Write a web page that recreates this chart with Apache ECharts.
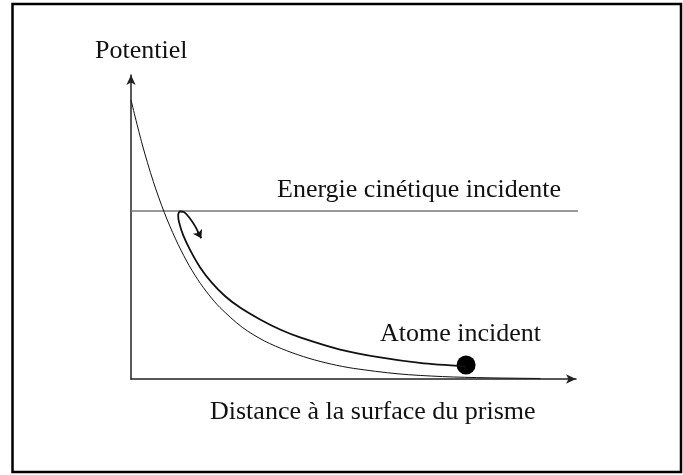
<!DOCTYPE html>
<html>
<head>
<meta charset="utf-8">
<script src="https://cdn.jsdelivr.net/npm/echarts@6/dist/echarts.min.js"></script>
<style>
  html, body { margin: 0; padding: 0; background: #fff; }
  #chart { width: 683px; height: 475px; }
</style>
</head>
<body>
<div id="chart"></div>
<script>
// potential curve V(d)
const distance = [0, 0.25, 0.5, 0.75, 1, 1.25, 1.5, 1.75, 2, 2.5, 3, 3.5, 4, 4.5, 5, 6, 7, 8, 9.2]
const potential = [9.18, 7.73, 6.5, 5.47, 4.61, 3.88, 3.27, 2.77, 2.35, 1.7, 1.25, 0.93, 0.68, 0.49, 0.35, 0.17, 0.08, 0.04, 0.017]

// trajectory of the incident atom (goes in, turns at E, comes back)
const pathX = [7.53, 6.49, 5.6, 4.7, 3.8, 3.35, 2.9, 2.45, 2.11, 1.82, 1.55, 1.33, 1.17, 1.08, 1.06, 1.1, 1.19, 1.3, 1.44, 1.55]
const pathY = [0.41, 0.53, 0.71, 0.97, 1.37, 1.63, 1.96, 2.35, 2.73, 3.16, 3.68, 4.24, 4.74, 5.16, 5.39, 5.51, 5.49, 5.33, 5.03, 4.7]
const arrowTip = [[1.5, 4.84], [1.58, 4.63]]

const energy = 5.53
const energyRange = [0, 10.09]
const atom = [7.53, 0.46]

const labels = {
  yName: 'Potentiel',
  xName: 'Distance à la surface du prisme',
  energy: 'Energie cinétique incidente',
  atom: 'Atome incident',
}

const font = '26px "Liberation Serif", "Times New Roman", serif'
const ink = '#111'

function textEl(str, x, y) {
  return {
    type: 'text',
    x: x,
    y: y,
    style: {
      text: str,
      font: font,
      fill: ink,
      align: 'left',
      verticalAlign: 'middle',
    },
  }
}

const chart = echarts.init(document.getElementById('chart'))
chart.setOption({
  animation: false,
  backgroundColor: '#fff',
  grid: { left: 131, right: 107, top: 75, bottom: 96 },
  xAxis: {
    type: 'value',
    min: 0,
    max: 10,
    axisLine: {
      show: true,
      symbol: ['none', 'arrow'],
      symbolSize: [7, 10],
      lineStyle: { color: '#222', width: 1.5 },
    },
    axisTick: { show: false },
    axisLabel: { show: false },
    splitLine: { show: false },
  },
  yAxis: {
    type: 'value',
    min: 0,
    max: 10,
    axisLine: {
      show: true,
      symbol: ['none', 'arrow'],
      symbolSize: [7, 10],
      lineStyle: { color: '#222', width: 1.5 },
    },
    axisTick: { show: false },
    axisLabel: { show: false },
    splitLine: { show: false },
  },
  series: [
    {
      type: 'line',
      data: energyRange.map(x => [x, energy]),
      showSymbol: false,
      clip: false,
      lineStyle: { color: '#777', width: 1.5 },
    },
    {
      type: 'line',
      data: distance.map((d, i) => [d, potential[i]]),
      showSymbol: false,
      smooth: 0.3,
      lineStyle: { color: ink, width: 1 },
    },
    {
      type: 'line',
      data: pathX.map((x, i) => [x, pathY[i]]),
      showSymbol: false,
      smooth: 0.3,
      lineStyle: { color: ink, width: 1.8 },
    },
    {
      type: 'lines',
      coordinateSystem: 'cartesian2d',
      symbol: ['none', 'arrow'],
      symbolSize: 8,
      lineStyle: { color: ink, width: 1.8, opacity: 1 },
      data: [{ coords: arrowTip }],
    },
    {
      type: 'scatter',
      data: [atom],
      symbolSize: 19,
      itemStyle: { color: '#000', opacity: 1 },
    },
  ],
  graphic: [
    {
      type: 'rect',
      shape: { x: 12.5, y: 4, width: 668.5, height: 468 },
      style: { fill: 'none', stroke: '#000', lineWidth: 2.5 },
    },
    textEl(labels.yName, 95, 51),
    textEl(labels.energy, 277, 190),
    textEl(labels.atom, 380, 334),
    textEl(labels.xName, 210, 412),
  ],
})
</script>
</body>
</html>
